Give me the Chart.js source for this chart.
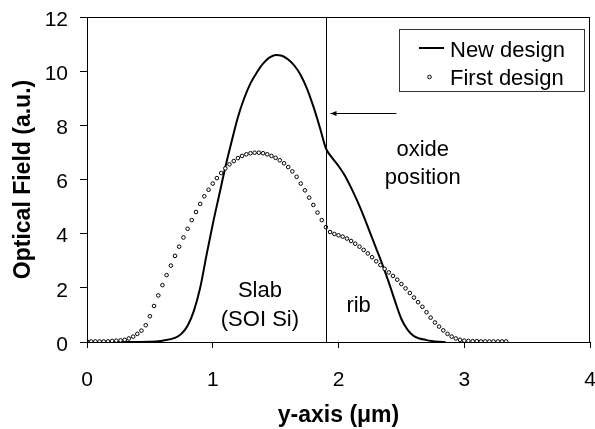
<!DOCTYPE html>
<html>
<head>
<meta charset="utf-8">
<script src="https://cdn.jsdelivr.net/npm/chart.js@4.4.1/dist/chart.umd.min.js"></script>
<style>
  html, body { margin: 0; padding: 0; background: #fff; }
  #chart { display: block; }
</style>
</head>
<body>
<canvas id="chart" width="595" height="429"></canvas>
<script>
// ─── Data ────────────────────────────────────────────────────────────────────
const NEW_X = [0, 0.3, 0.5, 0.6, 0.7, 0.75, 0.8, 0.85, 0.9, 0.95, 1.0, 1.05, 1.1, 1.15, 1.2,
    1.25, 1.3, 1.35, 1.4, 1.45, 1.5, 1.55, 1.6, 1.65, 1.7, 1.75, 1.8, 1.85, 1.9, 1.95, 2.0,
    2.05, 2.1, 2.15, 2.2, 2.25, 2.3, 2.35, 2.4, 2.45, 2.5, 2.55, 2.6, 2.7, 2.8, 2.85];
const NEW_Y = [0, 0, 0.01, 0.05, 0.15, 0.3, 0.6, 1.15, 2.0, 3.2, 4.35, 5.4, 6.45, 7.4, 8.3,
    9.0, 9.55, 9.95, 10.28, 10.5, 10.6, 10.57, 10.43, 10.2, 9.85, 9.35, 8.7, 7.95, 7.15, 6.8, 6.5,
    6.15, 5.7, 5.2, 4.65, 4.05, 3.45, 2.85, 2.2, 1.5, 0.85, 0.45, 0.22, 0.07, 0.01, 0];

const FIRST_X = [0, 0.033, 0.067, 0.1, 0.133, 0.167, 0.2, 0.233, 0.267, 0.3,
    0.333, 0.367, 0.4, 0.433, 0.467, 0.5, 0.533, 0.567, 0.6, 0.633,
    0.667, 0.7, 0.733, 0.767, 0.8, 0.833, 0.867, 0.9, 0.933, 0.967,
    1.0, 1.033, 1.067, 1.1, 1.133, 1.167, 1.2, 1.233, 1.267, 1.3,
    1.333, 1.367, 1.4, 1.433, 1.467, 1.5, 1.533, 1.567, 1.6, 1.633,
    1.667, 1.7, 1.733, 1.767, 1.8, 1.833, 1.867, 1.9, 1.933, 1.967,
    2.0, 2.033, 2.067, 2.1, 2.133, 2.167, 2.2, 2.233, 2.267, 2.3,
    2.333, 2.367, 2.4, 2.433, 2.467, 2.5, 2.533, 2.567, 2.6, 2.633,
    2.667, 2.7, 2.733, 2.767, 2.8, 2.833, 2.867, 2.9, 2.933, 2.967,
    3.0, 3.033, 3.067, 3.1, 3.133, 3.167, 3.2, 3.233, 3.267, 3.3, 3.333];
const FIRST_Y = [0.02, 0.02, 0.02, 0.02, 0.02, 0.02, 0.04, 0.05, 0.06, 0.08,
    0.13, 0.2, 0.3, 0.42, 0.62, 0.95, 1.33, 1.72, 2.1, 2.47,
    2.82, 3.18, 3.52, 3.86, 4.18, 4.5, 4.8, 5.1, 5.38, 5.62,
    5.85, 6.05, 6.24, 6.41, 6.56, 6.68, 6.79, 6.87, 6.93, 6.97,
    6.99, 6.99, 6.97, 6.93, 6.87, 6.8, 6.71, 6.6, 6.46, 6.3,
    6.1, 5.85, 5.6, 5.33, 5.06, 4.78, 4.5, 4.24, 4.06, 3.99,
    3.94, 3.89, 3.82, 3.73, 3.63, 3.52, 3.4, 3.27, 3.13, 2.98,
    2.84, 2.7, 2.57, 2.44, 2.3, 2.14, 1.98, 1.81, 1.64, 1.47,
    1.3, 1.1, 0.9, 0.72, 0.57, 0.43, 0.3, 0.2, 0.13, 0.08,
    0.05, 0.04, 0.03, 0.03, 0.02, 0.02, 0.02, 0.02, 0.02, 0.02, 0.02];

const SERIES_NAMES = ['New design', 'First design'];
const X_TICKS = [0, 1, 2, 3, 4];
const Y_TICKS = [0, 2, 4, 6, 8, 10, 12];
const OXIDE_X = 1.9;

const FONT = "'Liberation Sans', Arial, sans-serif";

// ─── Annotations, frame and legend ───────────────────────────────────────────
const decorations = {
    id: 'decorations',
    afterDatasetsDraw(chart) {
        const { ctx, chartArea: a, scales: { x, y } } = chart;
        ctx.save();

        // plot frame
        ctx.strokeStyle = '#000';
        ctx.lineWidth = 1;
        ctx.strokeRect(Math.round(a.left) + 0.5, Math.round(a.top) + 0.5,
            Math.round(a.right - a.left) - 1, Math.round(a.bottom - a.top));

        // oxide position line
        const ox = Math.round(x.getPixelForValue(OXIDE_X)) + 0.5;
        ctx.beginPath();
        ctx.moveTo(ox, a.top);
        ctx.lineTo(ox, a.bottom);
        ctx.stroke();

        // arrow
        const ay = Math.round(y.getPixelForValue(8.45)) + 0.5;
        const ax0 = x.getPixelForValue(2.46);
        const ax1 = ox + 4;
        ctx.beginPath();
        ctx.moveTo(ax0, ay);
        ctx.lineTo(ax1, ay);
        ctx.stroke();
        ctx.beginPath();
        ctx.moveTo(ax1, ay);
        ctx.lineTo(ax1 + 6, ay - 2.5);
        ctx.lineTo(ax1 + 6, ay + 2.5);
        ctx.closePath();
        ctx.fillStyle = '#000';
        ctx.fill();

        // text labels
        ctx.font = `22px ${FONT}`;
        ctx.fillStyle = '#000';
        ctx.textAlign = 'center';
        ctx.textBaseline = 'alphabetic';
        const label = (t, vx, vy) => ctx.fillText(t, x.getPixelForValue(vx), y.getPixelForValue(vy));
        label('oxide', 2.67, 6.87);
        label('position', 2.67, 5.85);
        label('Slab', 1.375, 1.66);
        label('(SOI Si)', 1.375, 0.59);
        label('rib', 2.16, 1.11);

        // legend box
        ctx.strokeStyle = '#333';
        ctx.strokeRect(399.5, 29.5, 185, 62);
        ctx.strokeStyle = '#000';
        ctx.lineWidth = 2;
        ctx.beginPath();
        ctx.moveTo(419, 48);
        ctx.lineTo(444, 48);
        ctx.stroke();
        ctx.lineWidth = 1;
        ctx.beginPath();
        ctx.arc(429.5, 77, 1.8, 0, Math.PI * 2);
        ctx.fillStyle = '#fff';
        ctx.fill();
        ctx.stroke();
        ctx.fillStyle = '#000';
        ctx.textAlign = 'left';
        ctx.fillText(chart.data.datasets[0].label, 450, 57);
        ctx.fillText(chart.data.datasets[1].label, 450, 85);

        ctx.restore();
    }
};

new Chart(document.getElementById('chart'), {
    type: 'scatter',
    data: {
        datasets: [{
            label: SERIES_NAMES[0],
            data: NEW_X.map((v, i) => ({ x: v, y: NEW_Y[i] })),
            showLine: true,
            borderColor: '#000',
            borderWidth: 2,
            pointRadius: 0,
            cubicInterpolationMode: 'monotone',
            order: 1
        }, {
            label: SERIES_NAMES[1],
            data: FIRST_X.map((v, i) => ({ x: v, y: FIRST_Y[i] })),
            showLine: false,
            pointStyle: 'circle',
            pointRadius: 1.8,
            pointBorderWidth: 1,
            pointBorderColor: '#000',
            pointBackgroundColor: '#fff',
            order: 0
        }]
    },
    options: {
        responsive: false,
        animation: false,
        devicePixelRatio: 1,
        layout: { padding: { top: 17, right: 3, left: 0, bottom: 0 } },
        plugins: {
            legend: { display: false },
            tooltip: { enabled: false }
        },
        scales: {
            x: {
                type: 'linear',
                min: 0,
                max: 4,
                afterBuildTicks: s => { s.ticks = X_TICKS.map(v => ({ value: v })); },
                afterFit: s => { s.height = 87; s.paddingLeft = 0; s.paddingRight = 0; },
                grid: { drawOnChartArea: false, drawTicks: true, tickLength: 6, color: '#000' },
                border: { display: true, color: '#000' },
                ticks: {
                    color: '#000',
                    padding: 20,
                    maxRotation: 0,
                    font: { family: FONT, size: 21 }
                },
                title: {
                    display: true,
                    text: 'y-axis (\u03bcm)',
                    color: '#000',
                    padding: { top: 0, bottom: 0 },
                    font: { family: FONT, size: 23, weight: 'bold' }
                }
            },
            y: {
                min: 0,
                max: 12,
                afterBuildTicks: s => { s.ticks = Y_TICKS.map(v => ({ value: v })); },
                afterFit: s => { s.width = 87; s.paddingTop = 0; s.paddingBottom = 0; },
                grid: { drawOnChartArea: false, drawTicks: true, tickLength: 7, color: '#000' },
                border: { display: true, color: '#000' },
                ticks: {
                    color: '#000',
                    padding: 12,
                    labelOffset: 3,
                    font: { family: FONT, size: 21 }
                },
                title: {
                    display: true,
                    text: 'Optical Field (a.u.)',
                    color: '#000',
                    padding: { top: 10, bottom: 0 },
                    font: { family: FONT, size: 23, weight: 'bold' }
                }
            }
        }
    },
    plugins: [decorations]
});
</script>
</body>
</html>
